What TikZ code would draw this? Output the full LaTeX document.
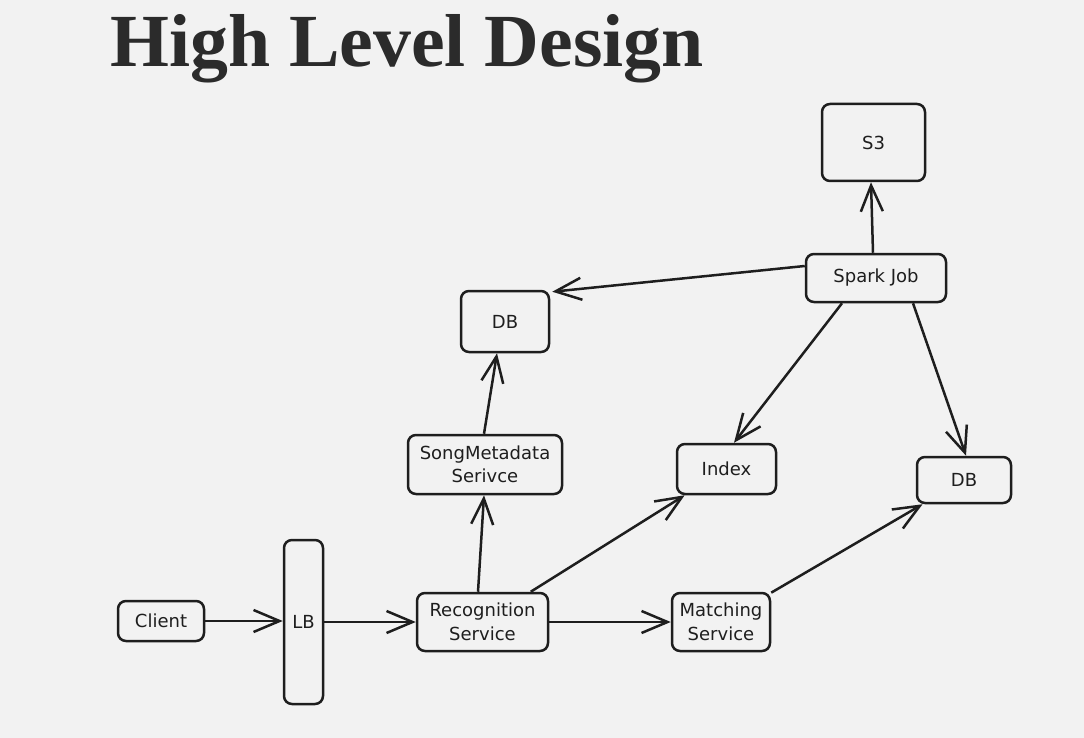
\documentclass[tikz,border=0pt]{standalone}
\usepackage{fontspec}
\setmainfont{DejaVu Sans}
\newfontfamily\titlefont{Liberation Serif}
\usetikzlibrary{arrows.meta,calc}
\definecolor{bg}{RGB}{242,242,242}
\definecolor{ink}{RGB}{30,30,30}
\definecolor{titleink}{RGB}{43,43,43}
\tikzset{
  box/.style={draw=ink, line width=2.5pt, rounded corners=8pt, inner sep=0pt,
    align=center, font=\fontsize{18}{23.5}\selectfont, text=ink},
  conn/.style={draw=ink, line width=2.5pt,
    -{Straight Barb[length=26pt,width=22pt,line width=2.5pt]}}
}
\begin{document}
\begin{tikzpicture}[x=1pt,y=-1pt]
\fill[bg] (0,0) rectangle (1084,738);
\useasboundingbox (0,0) rectangle (1084,738);
\node[anchor=base west, inner sep=0pt, text=titleink,
  font=\titlefont\bfseries\fontsize{75}{80}\selectfont] (title) at (110,67)
  {\scalebox{1.01}[1]{High Level Design}};

\node[box, minimum width=103pt, minimum height=77pt] (s3) at (873.5,142.5) {S3};
\node[box, minimum width=140pt, minimum height=48pt] (spark) at (876,278) {Spark Job};
\node[box, minimum width=88pt, minimum height=61pt] (dbtop) at (505,321.5) {DB};
\node[box, minimum width=154pt, minimum height=59pt] (smd) at (485,464.5) {SongMetadata\\Serivce};
\node[box, minimum width=99pt, minimum height=50pt] (index) at (726.5,469) {Index};
\node[box, minimum width=94pt, minimum height=46pt] (dbr) at (964,480) {DB};
\node[box, minimum width=86pt, minimum height=40pt] (client) at (161,621) {Client};
\node[box, minimum width=39pt, minimum height=164pt] (lb) at (303.5,622) {LB};
\node[box, minimum width=131pt, minimum height=58pt] (rec) at (482.5,622) {Recognition\\Service};
\node[box, minimum width=98pt, minimum height=58pt] (match) at (721,622) {Matching\\Service};

\draw[conn] (client.east) -- (client.east -| lb.west);
\draw[conn] (lb.east |- rec.west) -- (rec.west);
\draw[conn] (rec.east) -- (match.west);
\draw[conn] ([xshift=-4.5pt]rec.north) -- ([xshift=-1pt]smd.south);
\draw[conn] ([xshift=-1pt]smd.north) -- ([xshift=-8pt]dbtop.south);
\draw[conn] (rec) -- (index);
\draw[conn] (match) -- (dbr);
\draw[conn] ([xshift=-3pt]spark.north) -- ([xshift=-2.5pt]s3.south);
\draw[conn] ([yshift=12pt]spark.west) -- ([xshift=2pt,yshift=-2pt]dbtop.north east);
\draw[conn] ([xshift=-34pt]spark.south) -- ([xshift=7.5pt]index.north);
\draw[conn] ([xshift=37pt]spark.south) -- ([xshift=2pt]dbr.north);
\end{tikzpicture}
\end{document}
